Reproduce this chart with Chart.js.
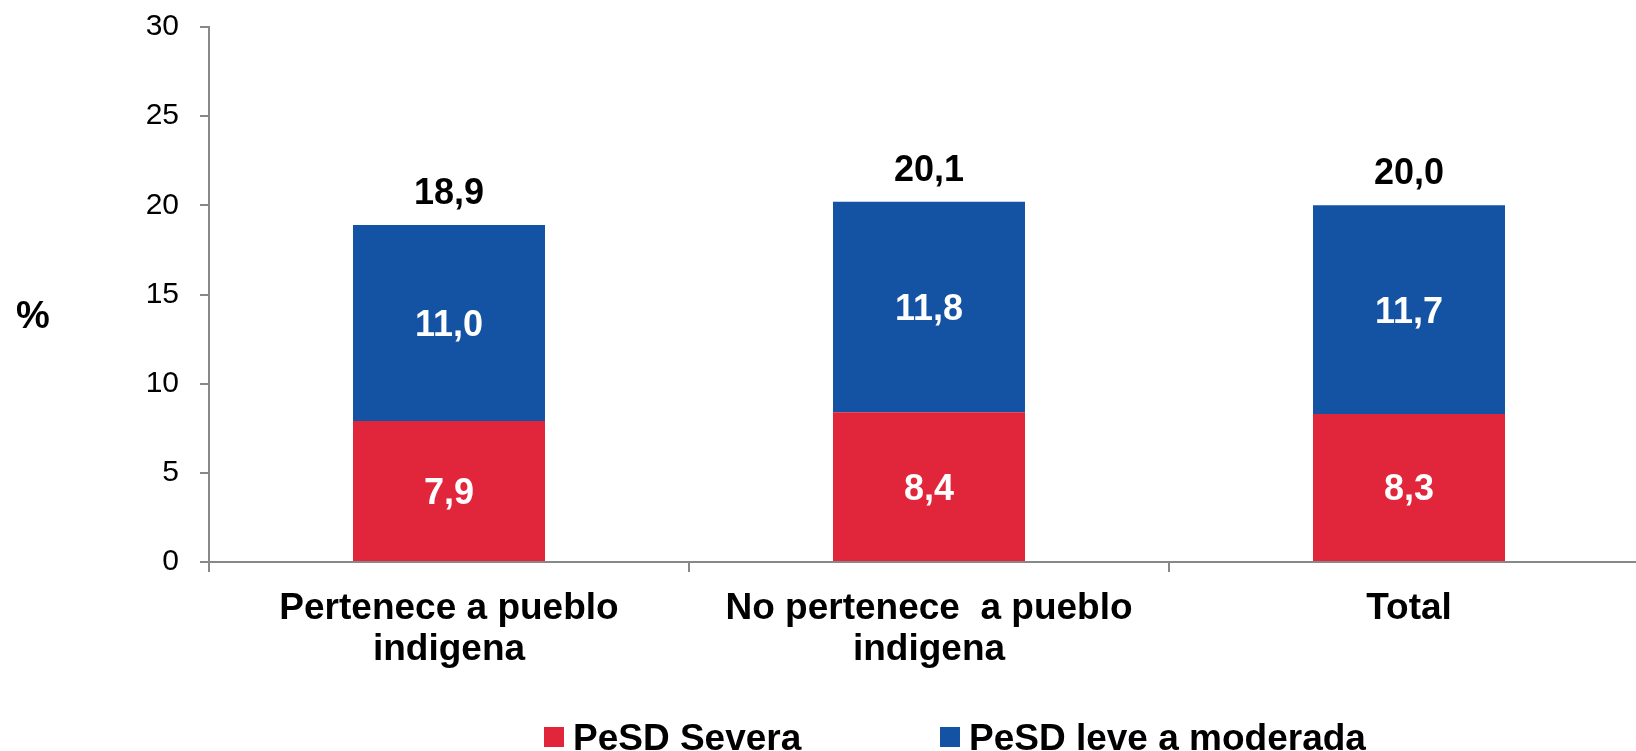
<!DOCTYPE html>
<html>
<head>
<meta charset="utf-8">
<script src="https://cdn.jsdelivr.net/npm/chart.js@4.4.1/dist/chart.umd.min.js"></script>
<style>
  html, body { margin: 0; padding: 0; overflow: hidden; background: #fff; }
  #wrap { width: 1650px; height: 751px; }
</style>
</head>
<body>
<div id="wrap"><canvas id="mycanvas"></canvas></div>
<script>
var categories = [["Pertenece a pueblo", "indigena"], ["No pertenece  a pueblo", "indigena"], "Total"];
var severa = [7.9, 8.4, 8.3];
var leve = [11.0, 11.8, 11.7];
var totals = [18.9, 20.1, 20.0];
var yTicks = [0, 5, 10, 15, 20, 25, 30];

var FONT = "'Liberation Sans', Arial, sans-serif";
var axisGrey = "#888888";

function fmt(v) {
    return v.toFixed(1).replace(".", ",");
}

// value labels inside segments and totals on top
var valueLabels = {
    id: "valueLabels",
    afterDatasetsDraw: function (chart) {
        var ctx = chart.ctx;
        ctx.save();
        ctx.font = "bold 36px " + FONT;
        ctx.textAlign = "center";
        ctx.textBaseline = "alphabetic";
        chart.data.datasets.forEach(function (ds, i) {
            chart.getDatasetMeta(i).data.forEach(function (bar, j) {
                ctx.fillStyle = "#ffffff";
                ctx.fillText(fmt(ds.data[j]), bar.x, (bar.y + bar.base) / 2 + 13);
            });
        });
        var top = chart.getDatasetMeta(chart.data.datasets.length - 1).data;
        top.forEach(function (bar, j) {
            ctx.fillStyle = "#000000";
            ctx.fillText(fmt(totals[j]), bar.x, bar.y - 21);
        });
        ctx.restore();
    }
};

// "%" axis label and bottom legend
var extras = {
    id: "extras",
    afterDraw: function (chart) {
        var ctx = chart.ctx;
        ctx.save();
        ctx.fillStyle = "#000";
        ctx.font = "bold 38px " + FONT;
        ctx.textAlign = "center";
        ctx.textBaseline = "alphabetic";
        ctx.fillText("%", 33, 328);

        var boxX = [544, 940];
        ctx.font = "bold 37px " + FONT;
        ctx.textAlign = "left";
        chart.data.datasets.forEach(function (ds, i) {
            ctx.fillStyle = ds.backgroundColor;
            ctx.fillRect(boxX[i], 727, 20, 20);
            ctx.fillStyle = "#000";
            ctx.fillText(ds.label, boxX[i] + 29, 750);
        });
        ctx.restore();
    }
};

var Data = {
    labels: categories,
    datasets: [
        {
            label: "PeSD Severa",
            backgroundColor: "#E1253A",
            data: severa,
            barPercentage: 0.4,
            categoryPercentage: 1
        },
        {
            label: "PeSD leve a moderada",
            backgroundColor: "#1453A4",
            data: leve,
            barPercentage: 0.4,
            categoryPercentage: 1
        }
    ]
};

var ctx = document.getElementById("mycanvas");
var myChart = new Chart(ctx, {
    type: "bar",
    data: Data,
    plugins: [valueLabels, extras],
    options: {
        responsive: true,
        maintainAspectRatio: false,
        animation: false,
        layout: { padding: { top: 27, right: 1, left: 0, bottom: 0 } },
        plugins: {
            legend: { display: false },
            tooltip: { enabled: false }
        },
        scales: {
            x: {
                stacked: true,
                afterFit: function (scale) { scale.height = 189; },
                border: { color: axisGrey, width: 2 },
                grid: {
                    display: true,
                    drawOnChartArea: false,
                    color: axisGrey,
                    lineWidth: 2,
                    tickLength: 10,
                    offset: true
                },
                ticks: {
                    color: "#000",
                    padding: 16,
                    maxRotation: 0,
                    autoSkip: false,
                    font: { family: FONT, size: 37, weight: "bold", lineHeight: 1.12 }
                }
            },
            y: {
                stacked: true,
                min: 0,
                max: 30,
                afterFit: function (scale) {
                    scale.width = 209;
                    scale.paddingTop = 0;
                    scale.paddingBottom = 0;
                },
                afterBuildTicks: function (scale) {
                    scale.ticks = yTicks.map(function (v) { return { value: v }; });
                },
                border: { color: axisGrey, width: 2 },
                grid: {
                    display: true,
                    drawOnChartArea: false,
                    color: axisGrey,
                    lineWidth: 2,
                    tickLength: 9
                },
                ticks: {
                    color: "#000",
                    padding: 21,
                    font: { family: FONT, size: 30 }
                }
            }
        }
    }
});
</script>
</body>
</html>
